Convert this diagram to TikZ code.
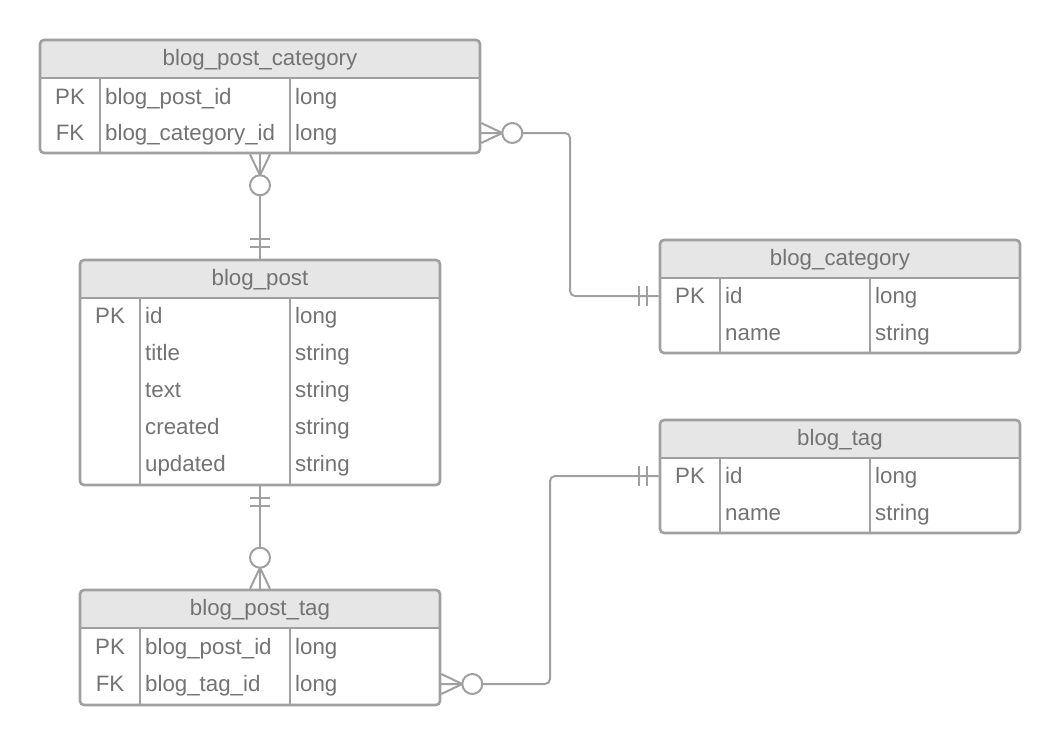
\documentclass[tikz,border=0pt]{standalone}
\usepackage{fontspec}
\setmainfont{Liberation Sans}
\usetikzlibrary{fit}
\definecolor{bd}{HTML}{A0A0A0}
\definecolor{hd}{HTML}{E6E6E6}
\definecolor{tx}{HTML}{737373}
\tikzset{
  tbox/.style={draw=bd, line width=2.6pt, rounded corners=4pt, inner sep=0pt},
  divline/.style={draw=bd, line width=2.6pt},
  txt/.style={text=tx, inner sep=0pt, text height=16pt, text depth=0.6pt, font=\fontsize{22.3}{26}\selectfont},
  cell/.style={txt, anchor=west},
  keycell/.style={txt, anchor=center},
  ttl/.style={txt, anchor=center},
  conn/.style={draw=bd, line width=2pt, rounded corners=5pt},
  ermark/.style={draw=bd, line width=2pt},
}
% #1 name, #2 x1, #3 y1, #4 x2, #5 y2, #6 header bottom, #7 divider1, #8 divider2, #9 title
\newcommand\ertable[9]{%
  \fill[hd] (#2,#6) [rounded corners=4pt] -- (#2,#3) -- (#4,#3) [sharp corners] -- (#4,#6) -- cycle;
  \node[tbox, fit={(#2,#3)(#4,#5)}] (#1) {};
  \draw[divline] (#2,#6) -- (#4,#6);
  \draw[divline] (#7,#6) -- (#7,#5);
  \draw[divline] (#8,#6) -- (#8,#5);
  \node[ttl] (#1-title) at ({(#2+#4)/2},{(#3+#6)/2-1}) {#9};
}
% crow's foot "zero or many": at point #1, pointing direction angle #2
\newcommand\zeromany[2]{%
  \begin{scope}[shift={#1}, rotate=#2]
    \draw[ermark] (0,-10) -- (21,0) -- (0,10);
    \draw[ermark] (0,0) -- (21,0);
    \draw[ermark, fill=white] (31,0) circle[radius=10];
  \end{scope}}
% "one and only one" bars at point #1, direction #2
\newcommand\oneone[2]{%
  \begin{scope}[shift={#1}, rotate=#2]
    \draw[ermark] (12,-10) -- (12,10);
    \draw[ermark] (20,-10) -- (20,10);
  \end{scope}}
\begin{document}
\begin{tikzpicture}[x=1pt,y=-1pt]
\useasboundingbox[fill=white] (0,0) rectangle (1060,745);

\coordinate (k1) at (570,133);
\coordinate (k2) at (550,684);

% blog_post_category
\ertable{bpc}{40}{40}{480}{153}{78}{100}{290}{blog\_post\_category}
\node[keycell] (bpc-k1) at (70,97) {PK};
\node[keycell] (bpc-k2) at (70,133) {FK};
\node[cell] (bpc-n1) at (105,97) {blog\_post\_id};
\node[cell] (bpc-n2) at (105,133) {blog\_category\_id};
\node[cell] (bpc-t1) at (295,97) {long};
\node[cell] (bpc-t2) at (295,133) {long};

% blog_post
\ertable{bp}{80}{260}{440}{485}{298}{140}{290}{blog\_post}
\node[keycell] (bp-k1) at (110,316) {PK};
\node[cell] (bp-n1) at (145,316) {id};
\node[cell] (bp-n2) at (145,353) {title};
\node[cell] (bp-n3) at (145,390) {text};
\node[cell] (bp-n4) at (145,427) {created};
\node[cell] (bp-n5) at (145,464) {updated};
\node[cell] (bp-t1) at (295,316) {long};
\node[cell] (bp-t2) at (295,353) {string};
\node[cell] (bp-t3) at (295,390) {string};
\node[cell] (bp-t4) at (295,427) {string};
\node[cell] (bp-t5) at (295,464) {string};

% blog_category
\ertable{bc}{660}{240}{1020}{353}{278}{720}{870}{blog\_category}
\node[keycell] (bc-k1) at (690,296) {PK};
\node[cell] (bc-n1) at (725,296) {id};
\node[cell] (bc-n2) at (725,333) {name};
\node[cell] (bc-t1) at (875,296) {long};
\node[cell] (bc-t2) at (875,333) {string};

% blog_tag
\ertable{bt}{660}{420}{1020}{533}{458}{720}{870}{blog\_tag}
\node[keycell] (bt-k1) at (690,476) {PK};
\node[cell] (bt-n1) at (725,476) {id};
\node[cell] (bt-n2) at (725,513) {name};
\node[cell] (bt-t1) at (875,476) {long};
\node[cell] (bt-t2) at (875,513) {string};

% blog_post_tag
\ertable{bpt}{80}{590}{440}{705}{628}{140}{290}{blog\_post\_tag}
\node[keycell] (bpt-k1) at (110,647) {PK};
\node[keycell] (bpt-k2) at (110,684) {FK};
\node[cell] (bpt-n1) at (145,647) {blog\_post\_id};
\node[cell] (bpt-n2) at (145,684) {blog\_tag\_id};
\node[cell] (bpt-t1) at (295,647) {long};
\node[cell] (bpt-t2) at (295,684) {long};

% connectors
\draw[conn] (bpc.east |- bpc-k2) -- (k1) |- (bc.west |- bc-k1);
\zeromany{(bpc.east |- bpc-k2)}{0}
\oneone{(bc.west |- bc-k1)}{180}

\draw[conn] (bpc.south -| bp-title) -- (bp.north -| bp-title);
\zeromany{(bpc.south -| bp-title)}{-90}
\oneone{(bp.north -| bp-title)}{90}

\draw[conn] (bp.south -| bp-title) -- (bpt.north -| bp-title);
\oneone{(bp.south -| bp-title)}{-90}
\zeromany{(bpt.north -| bp-title)}{90}

\draw[conn] (bpt.east |- bpt-k2) -- (k2) |- (bt.west |- bt-k1);
\zeromany{(bpt.east |- bpt-k2)}{0}
\oneone{(bt.west |- bt-k1)}{180}
\end{tikzpicture}
\end{document}
